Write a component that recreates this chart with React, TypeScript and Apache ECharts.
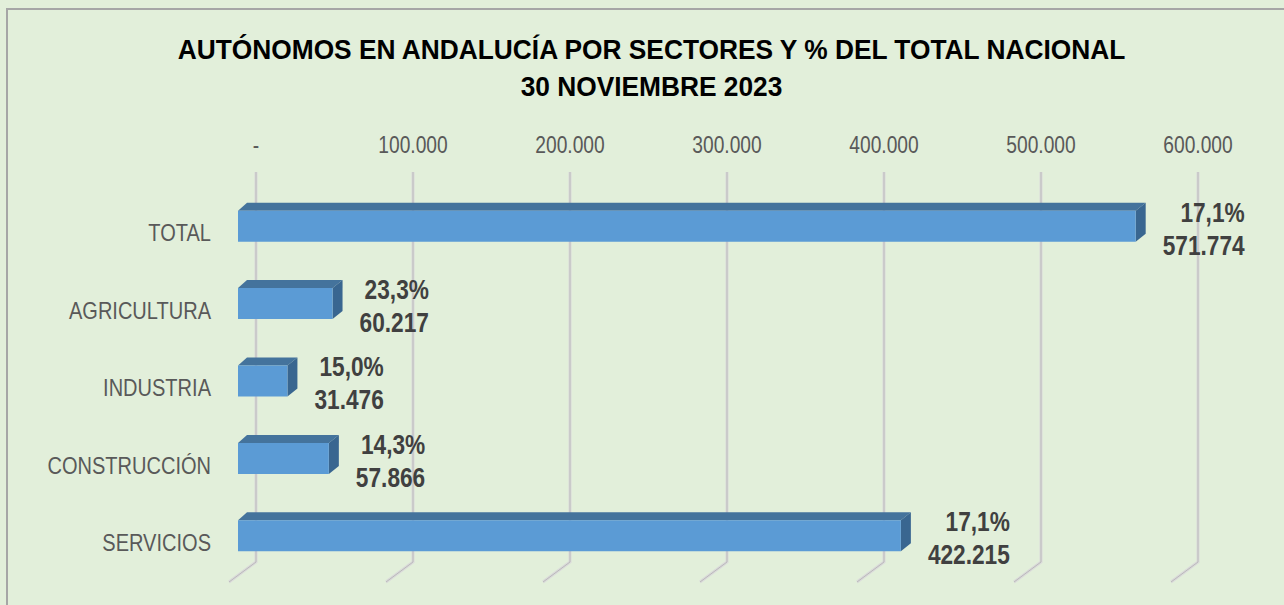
import React, { useEffect, useRef } from "react";
import * as echarts from "echarts";

const categories = ["TOTAL", "AGRICULTURA", "INDUSTRIA", "CONSTRUCCIÓN", "SERVICIOS"];
const values = [571774, 60217, 31476, 57866, 422215];
const shareLabels = ["17,1%", "23,3%", "15,0%", "14,3%", "17,1%"];
const valueLabels = ["571.774", "60.217", "31.476", "57.866", "422.215"];
const tickValues = [0, 100000, 200000, 300000, 400000, 500000, 600000];
const tickLabels = ["-", "100.000", "200.000", "300.000", "400.000", "500.000", "600.000"];
const titleLines = ["AUTÓNOMOS EN ANDALUCÍA POR SECTORES Y % DEL TOTAL NACIONAL", "30 NOVIEMBRE 2023"];

const FONT = "'Liberation Sans', Arial, sans-serif";

export default function App() {
  const ref = useRef<HTMLDivElement>(null);
  useEffect(() => {
    if (!ref.current) return;
    const chart = echarts.init(ref.current, undefined, { renderer: "svg" });
    const depthX = -18;
    const depthY = 15.5;
    const halfH = 15.5;
    const sideDx = 10;
    const sideDy = 8;
    chart.setOption({
      animation: false,
      backgroundColor: "#E2EFDA",
      graphic: [
        {
          type: "rect",
          x: 7,
          y: 9,
          shape: { width: 1300, height: 620 },
          style: { fill: "none", stroke: "#A6A6A6", lineWidth: 2 },
          silent: true,
        },
        ...titleLines.map((t, i) => ({
          type: "text",
          x: 651.5,
          y: 49 + i * 37,
          scaleX: 0.94,
          style: {
            text: t,
            textAlign: "center",
            textVerticalAlign: "middle",
            fontFamily: FONT,
            fontSize: 28,
            fontWeight: "bold",
            fill: "#000000",
          },
        })),
      ],
      grid: { left: 256, right: 86, top: 172, height: 387 },
      xAxis: {
        type: "value",
        position: "top",
        min: 0,
        max: 600000,
        interval: 100000,
        axisLine: { show: false },
        axisTick: { show: false },
        splitLine: { show: false },
        axisLabel: { show: false },
      },
      yAxis: {
        type: "category",
        data: categories,
        inverse: true,
        axisLine: { show: false },
        axisTick: { show: false },
        splitLine: { show: false },
        axisLabel: { show: false },
      },
      series: [
        {
          type: "custom",
          name: "grid",
          silent: true,
          encode: { x: 0, y: 1 },
          data: tickValues.map((v) => [v, 0]),
          renderItem: (params: any, api: any) => {
            const v = api.value(0);
            const x = api.coord([v, 0])[0];
            const cs = params.coordSys;
            const top = cs.y;
            const bottom = cs.y + cs.height + 3;
            const pts = [
              [x, top],
              [x, bottom],
              [x - 27, bottom + 20],
            ];
            const i = tickValues.indexOf(v);
            return {
              type: "group",
              children: [
                {
                  type: "polyline",
                  shape: { points: pts },
                  style: { stroke: "#DADADA", lineWidth: 3, fill: "none" },
                },
                {
                  type: "polyline",
                  shape: { points: pts },
                  style: { stroke: "#BABABA", lineWidth: 1, fill: "none" },
                },
                {
                  type: "text",
                  x: x,
                  y: top - 27,
                  scaleX: 0.8,
                  style: {
                    text: i >= 0 ? tickLabels[i] : "",
                    textAlign: "center",
                    textVerticalAlign: "middle",
                    fontFamily: FONT,
                    fontSize: 24,
                    fill: "#595959",
                  },
                },
              ],
            };
          },
        },
        {
          type: "custom",
          name: "Autónomos",
          encode: { x: 1, y: 0 },
          data: values.map((v, i) => [i, v]),
          renderItem: (params: any, api: any) => {
            const idx = api.value(0);
            const val = api.value(1);
            const endP = api.coord([val, idx]);
            const startP = api.coord([0, idx]);
            const x0 = startP[0] + depthX;
            const x1 = endP[0] + depthX;
            const yc = endP[1] + depthY;
            const yt = yc - halfH;
            const yb = yc + halfH;
            return {
              type: "group",
              children: [
                {
                  type: "polygon",
                  shape: {
                    points: [
                      [x0, yt],
                      [x0 + sideDx - 1, yt - sideDy],
                      [x1 + sideDx, yt - sideDy],
                      [x1, yt],
                    ],
                  },
                  style: { fill: "#44739C" },
                },
                {
                  type: "polygon",
                  shape: {
                    points: [
                      [x1, yt],
                      [x1 + sideDx, yt - sideDy],
                      [x1 + sideDx, yb - sideDy],
                      [x1, yb],
                    ],
                  },
                  style: { fill: "#396690" },
                },
                {
                  type: "rect",
                  shape: { x: x0, y: yt, width: x1 - x0, height: yb - yt },
                  style: { fill: "#5B9BD5" },
                },
                {
                  type: "text",
                  x: 211,
                  y: yc + 7,
                  scaleX: 0.835,
                  style: {
                    text: categories[idx],
                    textAlign: "right",
                    textVerticalAlign: "middle",
                    fontFamily: FONT,
                    fontSize: 24,
                    fill: "#595959",
                  },
                },
                {
                  type: "text",
                  x: x1 + 27,
                  y: yc + 2,
                  scaleX: 0.81,
                  style: {
                    text: "{a|" + shareLabels[idx] + "}\n{a|" + valueLabels[idx] + "}",
                    textAlign: "left",
                    textVerticalAlign: "middle",
                    rich: {
                      a: {
                        align: "right",
                        fontFamily: FONT,
                        fontSize: 28,
                        fontWeight: "bold",
                        lineHeight: 33,
                        fill: "#404040",
                        color: "#404040",
                      },
                    },
                  },
                },
              ],
            };
          },
        },
      ],
    });
    return () => chart.dispose();
  }, []);
  return (
    <div
      ref={ref}
      style={{ position: "fixed", left: 0, top: 0, width: 1284, height: 605 }}
    />
  );
}
